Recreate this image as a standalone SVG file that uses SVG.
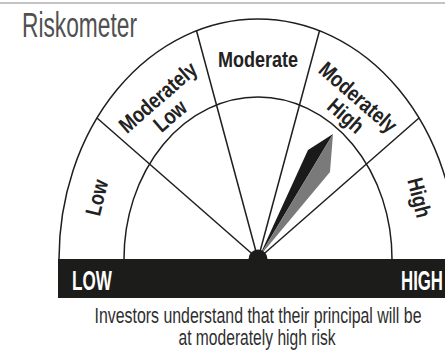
<svg xmlns="http://www.w3.org/2000/svg" width="445" height="350" viewBox="0 0 445 350">
  <style>
    .rule { stroke: #1e1e1e; stroke-width: 1.5; fill: none; }
    .band { font-family: "Liberation Sans", Arial, sans-serif; font-weight: bold; font-size: 22px; fill: #222222; text-anchor: middle; }
    .end { font-family: "Liberation Sans", Arial, sans-serif; font-weight: bold; font-size: 28px; fill: #ffffff; }
    .note { font-family: "Liberation Sans", Arial, sans-serif; font-size: 22px; fill: #2e2e2e; text-anchor: middle; }
    .title { font-family: "Liberation Sans", Arial, sans-serif; font-size: 35px; fill: #505050; }
  </style>

  <rect x="0" y="0" width="445" height="350" fill="#ffffff"/>
  <line x1="0" y1="3" x2="445" y2="3" stroke="#c4c4c4" stroke-width="2"/>

  <!-- all lettering uses a horizontally narrowed sans to get a condensed face -->
  <text class="title" transform="translate(22,37) scale(0.65,1)">Riskometer</text>

  <!-- dial outline: two half-ellipses around the hub at (258,259) -->
  <g id="dial">
    <path class="rule" d="M59,259 A199,240 0 0 1 457,259"/>
    <path class="rule" d="M124,259 A134,162 0 0 1 392,259"/>
  </g>

  <!-- band dividers, every 36 degrees -->
  <g id="dividers" class="rule">
    <line x1="258" y1="259" x2="97" y2="118"/>
    <line x1="258" y1="259" x2="196.5" y2="30.8"/>
    <line x1="258" y1="259" x2="319.5" y2="30.8"/>
    <line x1="258" y1="259" x2="419" y2="118"/>
  </g>

  <!-- band names, set tangent to the dial -->
  <g id="band-low">
    <text class="band" transform="translate(104,199.4) rotate(-76) scale(0.82,1)">Low</text>
  </g>
  <g id="band-moderately-low">
    <text class="band" transform="translate(162.8,102.9) rotate(-41) scale(0.82,1)">Moderately</text>
    <text class="band" transform="translate(175.1,121.5) rotate(-41) scale(0.82,1)">Low</text>
  </g>
  <g id="band-moderate">
    <text class="band" transform="translate(258,67) scale(0.82,1)">Moderate</text>
  </g>
  <g id="band-moderately-high">
    <text class="band" transform="translate(353.2,102.9) rotate(41) scale(0.82,1)">Moderately</text>
    <text class="band" transform="translate(340.9,121.5) rotate(41) scale(0.82,1)">High</text>
  </g>
  <g id="band-high">
    <text class="band" transform="translate(412,199.4) rotate(76) scale(0.82,1)">High</text>
  </g>

  <!-- needle: dark face and shaded face -->
  <g id="needle">
    <polygon points="259,257 308,150 333,134" fill="#1a1a1a"/>
    <polygon points="259,257 333,134 330,172" fill="#7a7a7a"/>
  </g>

  <!-- scale bar and hub -->
  <g id="scale-bar">
    <rect x="58" y="259" width="387" height="39" fill="#1c1c1a"/>
    <circle cx="258" cy="259" r="9.5" fill="#1c1c1a"/>
    <text class="end" transform="translate(72,290) scale(0.61,1)">LOW</text>
    <text class="end" transform="translate(401,290) scale(0.6,1)">HIGH</text>
  </g>

  <g id="caption">
    <text class="note" transform="translate(258,323) scale(0.723,1)">Investors understand that their principal will be</text>
    <text class="note" transform="translate(257,345) scale(0.71,1)">at moderately high risk</text>
  </g>
</svg>
